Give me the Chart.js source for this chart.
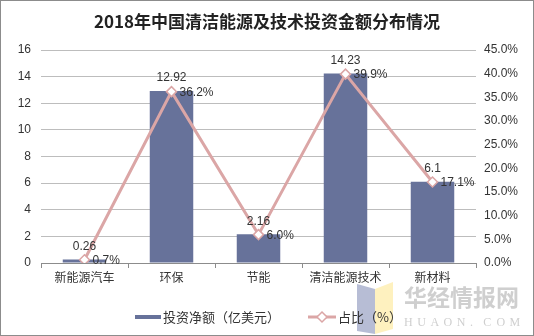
<!DOCTYPE html>
<html>
<head>
<meta charset="utf-8">
<script src="https://cdn.jsdelivr.net/npm/chart.js@4/dist/chart.umd.min.js"></script>
<style>
  html, body { margin: 0; padding: 0; background: #fff; }
  #wrap { width: 534px; height: 336px; position: relative; box-sizing: border-box; border: 1px solid #8c8c8c; }
  canvas { display: block; }
</style>
</head>
<body>
<div id="wrap"><canvas id="myChart" width="532" height="334"></canvas></div>
<script>
'use strict'

const titleText = '2018年中国清洁能源及技术投资金额分布情况'
const categories = ['新能源汽车', '环保', '节能', '清洁能源技术', '新材料']
const amounts = [0.26, 12.92, 2.16, 14.23, 6.1]
const shares = [0.7, 36.2, 6.0, 39.9, 17.1]
const amountLabel = '投资净额（亿美元）'
const shareLabel = '占比（%）'

const barColor = '#67729a'
const lineColor = '#dba6a6'
const textColor = '#333'
const tickFont = { family: 'Liberation Sans, Arial, sans-serif', size: 12 }

// value labels, title, legend and the site mark are drawn by hand
const extras = {
  id: 'extras',
  afterDatasetsDraw(chart) {
    const c = chart.ctx
    c.save()
    c.fillStyle = textColor
    c.font = '12px Liberation Sans, Arial, sans-serif'
    c.textAlign = 'center'
    c.textBaseline = 'middle'
    chart.getDatasetMeta(1).data.forEach((bar, i) => {
      c.fillText(String(amounts[i]), bar.x, bar.y - 13)
    })
    c.textAlign = 'left'
    chart.getDatasetMeta(0).data.forEach((pt, i) => {
      c.fillText(shares[i].toFixed(1) + '%', pt.x + 8, pt.y + 1)
    })
    c.restore()
  },
  afterDraw(chart) {
    const c = chart.ctx
    c.save()
    // title
    c.fillStyle = '#222'
    c.font = 'bold 17px "Noto Sans CJK SC", serif'
    c.textAlign = 'center'
    c.textBaseline = 'middle'
    c.fillText(titleText, 266, 21)

    // site mark
    c.globalAlpha = 0.55
    c.fillStyle = '#7c86b3'
    c.beginPath(); c.moveTo(356, 283); c.lineTo(374, 288); c.lineTo(374, 333); c.lineTo(356, 330); c.closePath(); c.fill()
    c.fillStyle = '#fde58a'
    c.beginPath(); c.moveTo(374, 288); c.lineTo(392, 281); c.lineTo(392, 328); c.lineTo(374, 333); c.closePath(); c.fill()
    c.globalAlpha = 1
    c.fillStyle = '#cfcfcf'
    c.font = 'bold 23px "Noto Sans CJK SC", sans-serif'
    c.textAlign = 'left'
    c.fillText('华经情报网', 403, 296)
    c.font = '12px "Liberation Serif", serif'
    const mark = 'HUAON.COM'
    for (let i = 0; i < mark.length; i++) c.fillText(mark[i], 403 + i * 13.2, 322)

    // legend
    c.font = '13px "Noto Sans CJK SC", sans-serif'
    c.fillStyle = textColor
    c.strokeStyle = barColor
    c.lineWidth = 4
    c.beginPath(); c.moveTo(134, 316); c.lineTo(160, 316); c.stroke()
    c.fillText(chart.data.datasets[1].label, 162, 316)
    c.strokeStyle = lineColor
    c.lineWidth = 3
    c.beginPath(); c.moveTo(307, 316); c.lineTo(335, 316); c.stroke()
    c.fillStyle = '#fff'
    c.lineWidth = 1.5
    c.beginPath(); c.moveTo(321, 311); c.lineTo(326, 316); c.lineTo(321, 321); c.lineTo(316, 316); c.closePath(); c.fill(); c.stroke()
    c.fillStyle = textColor
    c.fillText(chart.data.datasets[0].label, 337, 316)
    c.restore()
  }
}

const ctx = document.getElementById('myChart')
new Chart(ctx, {
  data: {
    labels: categories,
    datasets: [{
      type: 'line',
      label: shareLabel,
      data: shares,
      yAxisID: 'y1',
      borderColor: lineColor,
      borderWidth: 3,
      lineTension: 0,
      pointStyle: 'rectRot',
      pointRadius: 5,
      pointBorderWidth: 1.5,
      pointBackgroundColor: '#fff',
      pointBorderColor: lineColor,
      order: 0
    }, {
      type: 'bar',
      label: amountLabel,
      data: amounts,
      yAxisID: 'y',
      backgroundColor: barColor,
      categoryPercentage: 1,
      barPercentage: 0.5,
      order: 1
    }]
  },
  options: {
    responsive: false,
    animation: false,
    layout: { padding: { top: 49, left: 0, right: 0, bottom: 0 } },
    plugins: {
      legend: { display: false },
      tooltip: { enabled: false }
    },
    scales: {
      x: {
        offset: true,
        afterFit: s => { s.height = 72 },
        grid: { offset: true, drawOnChartArea: false, tickLength: 5, color: '#8c8c8c' },
        border: { display: true, color: '#8c8c8c' },
        ticks: { color: textColor, font: { family: '"Noto Sans CJK SC", sans-serif', size: 12 }, padding: 2, maxRotation: 0 }
      },
      y: {
        position: 'left',
        min: 0,
        max: 16,
        afterFit: s => { s.width = 40 },
        ticks: { stepSize: 2, color: textColor, font: tickFont, padding: 10 },
        grid: { color: '#bdbdbd', tickLength: 0 },
        border: { display: false }
      },
      y1: {
        position: 'right',
        min: 0,
        max: 45,
        afterFit: s => { s.width = 57 },
        ticks: { stepSize: 5, color: textColor, font: tickFont, padding: 8, callback: v => v.toFixed(1) + '%' },
        grid: { drawOnChartArea: false, tickLength: 0 },
        border: { display: false }
      }
    }
  },
  plugins: [extras]
})
</script>
</body>
</html>
